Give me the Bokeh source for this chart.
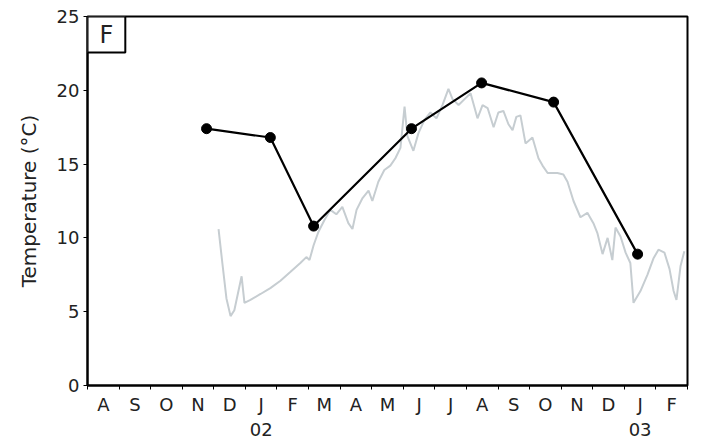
from bokeh.plotting import figure
from bokeh.models import FixedTicker, Range1d, Label
from bokeh.embed import file_html
from bokeh.resources import INLINE

# x = months since 1 Aug 2001
month_labels = ["A", "S", "O", "N", "D", "J\n02", "F", "M", "A", "M", "J", "J",
                "A", "S", "O", "N", "D", "J\n03", "F"]
y_ticks = [0, 5, 10, 15, 20, 25]

# sampled (dots) temperatures
sample_month = [3.77, 5.79, 7.16, 10.26, 12.48, 14.76, 17.42]
sample_temp = [17.4, 16.8, 10.8, 17.4, 20.5, 19.2, 8.9]

# continuous logger temperatures
logger_month = [4.15, 4.27, 4.40, 4.53, 4.65, 4.78, 4.88, 4.97, 5.16, 5.48, 5.79, 6.11,
                6.43, 6.74, 6.93, 7.03, 7.16, 7.31, 7.50, 7.69, 7.88, 8.07, 8.26, 8.39,
                8.52, 8.71, 8.90, 9.02, 9.21, 9.40, 9.59, 9.75, 9.91, 10.04, 10.13, 10.32,
                10.48, 10.67, 10.86, 11.05, 11.24, 11.43, 11.56, 11.75, 11.94, 12.13, 12.35,
                12.51, 12.67, 12.86, 13.01, 13.17, 13.33, 13.46, 13.58, 13.71, 13.87, 14.09,
                14.28, 14.41, 14.57, 14.88, 15.07, 15.20, 15.39, 15.61, 15.83, 16.02, 16.15,
                16.31, 16.47, 16.62, 16.72, 16.88, 17.04, 17.19, 17.29, 17.51, 17.73, 17.92,
                18.08, 18.27, 18.43, 18.56, 18.65, 18.78, 18.90]
logger_temp = [10.6, 8.3, 5.9, 4.7, 5.1, 6.4, 7.4, 5.6, 5.8, 6.2, 6.6, 7.1,
               7.7, 8.3, 8.7, 8.5, 9.5, 10.4, 11.2, 11.9, 11.6, 12.1, 11.0, 10.6,
               11.9, 12.7, 13.2, 12.5, 13.8, 14.6, 14.9, 15.4, 16.1, 18.9, 16.9, 15.9,
               17.1, 18.0, 18.5, 18.1, 19.0, 20.1, 19.4, 19.0, 19.4, 19.8, 18.1,
               19.0, 18.8, 17.5, 18.5, 18.6, 17.7, 17.3, 18.2, 18.3, 16.4, 16.8,
               15.4, 14.9, 14.4, 14.4, 14.3, 13.8, 12.5, 11.4, 11.7, 11.0, 10.3,
               8.9, 10.0, 8.5, 10.7, 10.1, 9.0, 8.3, 5.6, 6.4, 7.5, 8.6,
               9.2, 9.0, 7.9, 6.4, 5.8, 8.1, 9.1]

FONT = "DejaVu Sans"

p = figure(width=700, height=442, output_backend="svg", toolbar_location=None,
           x_range=Range1d(0, len(month_labels)), y_range=Range1d(0, 25),
           min_border_left=87, min_border_right=13, min_border_top=16, min_border_bottom=57)
p.xgrid.visible = False
p.ygrid.visible = False
p.outline_line_color = "black"
p.outline_line_width = 2
p.background_fill_color = "white"
p.border_fill_color = "white"

p.line(logger_month, logger_temp, line_color="#c6cdd1", line_width=2)
p.line(sample_month, sample_temp, line_color="black", line_width=2.2)
p.scatter(sample_month, sample_temp, size=10, color="black")

# x axis: labels centred in each month, ticks at month boundaries
xt = FixedTicker(ticks=[i + 0.5 for i in range(len(month_labels))],
                 minor_ticks=list(range(len(month_labels) + 1)))
p.xaxis.ticker = xt
p.xaxis.major_label_overrides = {i + 0.5: lab for i, lab in enumerate(month_labels)}
p.xaxis.major_tick_line_color = None
p.xaxis.minor_tick_line_color = "black"
p.xaxis.minor_tick_out = 4
p.xaxis.minor_tick_in = 0
p.xaxis.major_label_standoff = 2

p.yaxis.ticker = FixedTicker(ticks=y_ticks, minor_ticks=[])
p.yaxis.major_tick_out = 4
p.yaxis.major_tick_in = 0
p.yaxis.axis_label = "Temperature (°C)"
p.yaxis.axis_label_text_font_style = "normal"
p.yaxis.axis_label_text_font_size = "20px"
p.yaxis.axis_label_text_font = FONT
p.yaxis.axis_label_text_color = "#222222"
p.yaxis.axis_label_standoff = 13
p.yaxis.major_label_standoff = 4

for ax in (p.xaxis, p.yaxis):
    ax.axis_line_color = "black"
    ax.axis_line_width = 2
    ax.major_label_text_font = FONT
    ax.major_label_text_font_size = "18px"
    ax.major_label_text_color = "#222222"

panel = Label(x=0, y=25, text="F", text_font=FONT, text_font_size="24px",
              anchor="top_left", border_line_color="black", border_line_width=2,
              background_fill_color="white", padding=(12, 4), text_color="#222222")
p.add_layout(panel)

open("out.html", "w").write(file_html(p, INLINE))
